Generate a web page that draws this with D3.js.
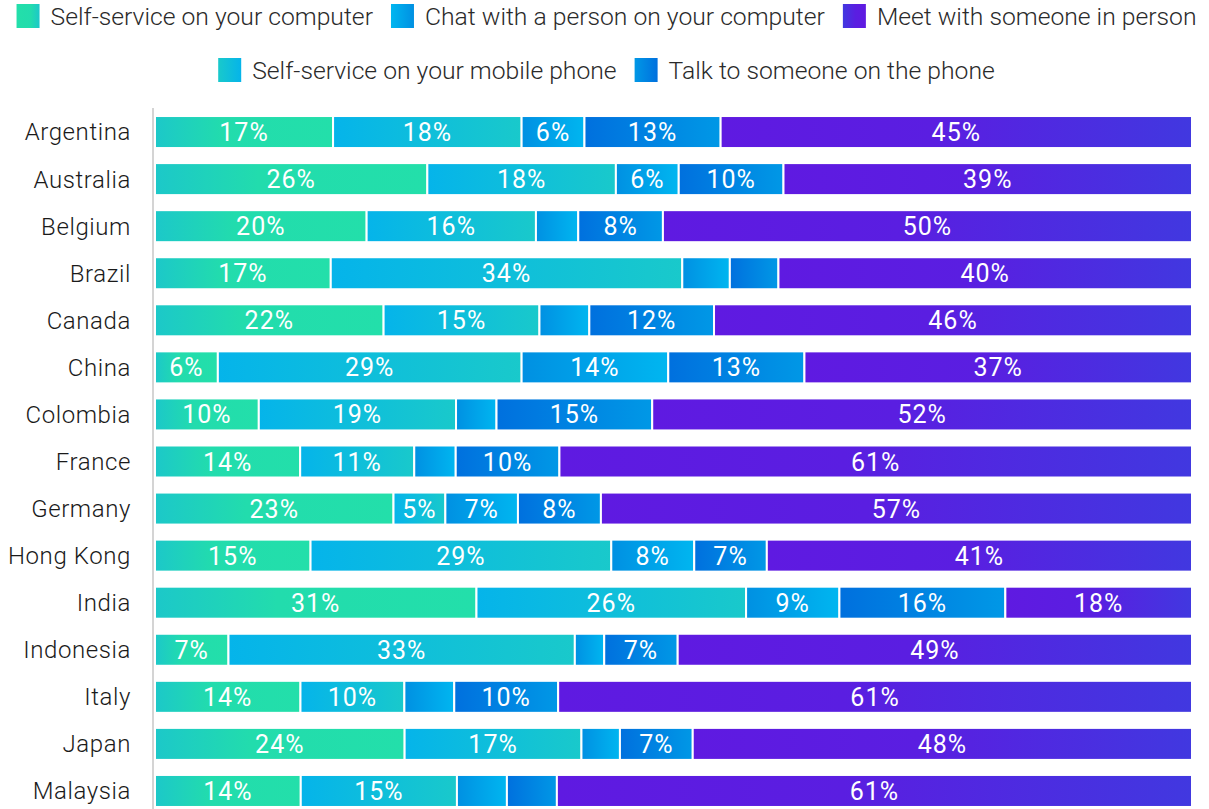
<!DOCTYPE html>
<html>
<head>
<meta charset="utf-8">
<script src="https://cdn.jsdelivr.net/npm/d3@7"></script>
<style>
  html, body { margin: 0; padding: 0; background: #fff; }
  svg { display: block; }
  .axis-label { font-family: Roboto, sans-serif; font-weight: 300; font-size: 24px; fill: #1a1a1a; letter-spacing: 0.6px; }
  .legend-label { font-family: Roboto, sans-serif; font-weight: 300; font-size: 24.7px; fill: #2a2a2a; }
  .value-label { font-family: Roboto, sans-serif; font-weight: 400; font-size: 25px; fill: #fff; letter-spacing: 1px; }
</style>
</head>
<body>
<script>
// Countries, top to bottom
const countries = ["Argentina", "Australia", "Belgium", "Brazil", "Canada", "China", "Colombia",
  "France", "Germany", "Hong Kong", "India", "Indonesia", "Italy", "Japan", "Malaysia"];

// Share of respondents (%) preferring each channel
const selfServiceComputer = [17, 26, 20, 17, 22, 6, 10, 14, 23, 15, 31, 7, 14, 24, 14];
const selfServiceMobile   = [18, 18, 16, 34, 15, 29, 19, 11, 5, 29, 26, 33, 10, 17, 15];
const chatComputer        = [6, 6, 4, 4.6, 4.8, 14, 3.9, 4, 7, 8, 9, 2.8, 4.8, 3.7, 4.8];
const talkPhone           = [13, 10, 8, 4.7, 12, 13, 15, 10, 8, 7, 16, 7, 10, 7, 4.8];
const meetInPerson        = [45, 39, 50, 40, 46, 37, 52, 61, 57, 41, 18, 49, 61, 48, 61];

const seriesNames = ["Self-service on your computer", "Self-service on your mobile phone",
  "Chat with a person on your computer", "Talk to someone on the phone", "Meet with someone in person"];
const seriesKeys = ["ssc", "ssm", "chat", "talk", "meet"];
const seriesValues = [selfServiceComputer, selfServiceMobile, chatComputer, talkPhone, meetInPerson];

// Gradient stops for each channel (bar direction: left -> right)
const gradientStops = [
  [["0%", "#1cc8c9"], ["38%", "#22dcad"], ["100%", "#23dfaa"]],
  [["0%", "#05b4ea"], ["100%", "#19c9cb"]],
  [["0%", "#0090e2"], ["100%", "#00b6f0"]],
  [["0%", "#0070de"], ["100%", "#0098e6"]],
  [["0%", "#5f1ae1"], ["45%", "#5a1ee1"], ["100%", "#4138e0"]]
];

const W = 1209, H = 809;
const svg = d3.select("body").append("svg").attr("width", W).attr("height", H);
const defs = svg.append("defs");

seriesKeys.forEach((k, i) => {
  const g = defs.append("linearGradient").attr("id", "grad-" + k)
    .attr("x1", "0%").attr("x2", "100%").attr("y1", "0%").attr("y2", "0%");
  gradientStops[i].forEach(([o, c]) => g.append("stop").attr("offset", o).attr("stop-color", c));
  // legend swatches run the other way
  const gl = defs.append("linearGradient").attr("id", "lgrad-" + k)
    .attr("x1", "100%").attr("x2", "0%").attr("y1", "0%").attr("y2", "0%");
  gradientStops[i].forEach(([o, c]) => gl.append("stop").attr("offset", o).attr("stop-color", c));
});

const rows = countries.map((c, i) => {
  const r = { country: c };
  seriesKeys.forEach((k, j) => r[k] = seriesValues[j][i]);
  return r;
});

const stacked = d3.stack().keys(seriesKeys).offset(d3.stackOffsetExpand)(rows);

const x = d3.scaleLinear().domain([0, 1]).range([155, 1192]);
const y = d3.scaleBand().domain(countries).range([108.5, 814.5]).paddingInner(0.32).paddingOuter(0.16);

// category axis
const yAxis = d3.axisLeft(y).tickSize(0).tickPadding(22);
const ax = svg.append("g").attr("transform", "translate(153,0)").call(yAxis);
ax.select(".domain").attr("stroke", "#d4d4d4").attr("stroke-width", 2).attr("d", "M0,108V809");
ax.selectAll("text").attr("class", "axis-label").attr("dy", "0.35em").attr("fill", null)
  .attr("font-family", null).attr("font-size", null);

// stacked bars
const layers = svg.append("g").selectAll("g").data(stacked).join("g")
  .attr("fill", d => "url(#grad-" + d.key + ")");

layers.selectAll("rect").data(d => d.map(p => ({ p, key: d.key }))).join("rect")
  .attr("x", d => x(d.p[0]))
  .attr("width", d => x(d.p[1]) - x(d.p[0]))
  .attr("y", d => y(d.p.data.country))
  .attr("height", y.bandwidth())
  .attr("stroke", "#fff")
  .attr("stroke-width", 2);

// value labels
layers.selectAll("text").data(d => d.map(p => ({ p, key: d.key })).filter(d => d.p.data[d.key] >= 5))
  .join("text")
  .attr("class", "value-label")
  .attr("x", d => (x(d.p[0]) + x(d.p[1])) / 2)
  .attr("y", d => y(d.p.data.country) + y.bandwidth() / 2)
  .attr("dy", "0.36em")
  .attr("text-anchor", "middle")
  .text(d => d3.format(".0f")(d.p.data[d.key]) + "%");

// legend: two centered rows
const legendRows = [[0, 2, 4], [1, 3]];
const rowY = [16, 70];
const sw = 23, swGap = 11, itemGap = 18;
legendRows.forEach((items, r) => {
  const g = svg.append("g");
  let cx = 0;
  items.forEach(i => {
    const it = g.append("g").attr("transform", `translate(${cx},0)`);
    it.append("rect").attr("x", 0).attr("y", rowY[r] - 12).attr("width", sw).attr("height", 24)
      .attr("fill", "url(#lgrad-" + seriesKeys[i] + ")");
    const t = it.append("text").attr("class", "legend-label")
      .attr("x", sw + swGap).attr("y", rowY[r]).attr("dy", "0.35em").text(seriesNames[i]);
    cx += sw + swGap + t.node().getComputedTextLength() + itemGap;
  });
  const total = cx - itemGap;
  g.attr("transform", `translate(${(W - total) / 2 + 2},0)`);
});
</script>
</body>
</html>
